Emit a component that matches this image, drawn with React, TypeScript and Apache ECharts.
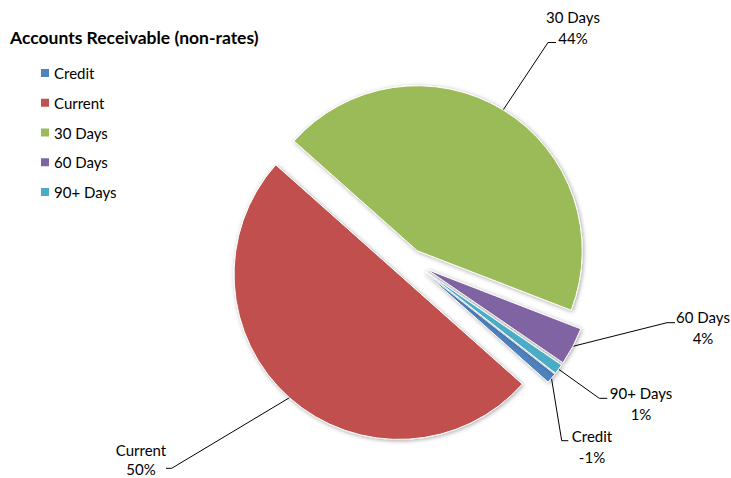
import React, { useEffect, useRef } from 'react';
import * as echarts from 'echarts';

// ---- data ----
const categories = ['Credit', 'Current', '30 Days', '60 Days', '90+ Days'];
const values = [-1.0, 50.0, 44.3, 3.7, 1.0];

// ---- styling / layout ----
const colors = ['#4F81BD', '#C0504D', '#9BBB59', '#8064A2', '#4BACC6'];
const CENTER = [411, 261];
const RADIUS = 165;
const START_ANGLE = 321.95;
const explodeOffsets = [18, 18, 12, 18, 18];
const labelPositions = [[592, 446.5], [141, 459], [573, 27.5], [703, 327.5], [641, 403.5]];
const labelLineHeights = [21, 19, 21, 21, 21];
const lineKinks = [[561.7, 440.7], [171.7, 468.3], [548, 42.5], [667, 322.7], [599.3, 398.3]];
const lineEnds = [[568.3, 440.7], [166, 468.3], [556, 42.5], [675, 322.7], [607.3, 398.3]];
const FONT = 'Lato';

export default function App() {
  const ref = useRef<HTMLDivElement>(null);
  useEffect(() => {
    if (!ref.current) return;
    const chart = echarts.init(ref.current, null, { renderer: 'svg' });
    const absVals = values.map((v) => Math.abs(v));
    const total = absVals.reduce((a, b) => a + b, 0);
    let acc = 0;
    const mids = absVals.map((v) => {
      const a0 = START_ANGLE - (acc / total) * 360;
      acc += v;
      const a1 = START_ANGLE - (acc / total) * 360;
      return (((a0 + a1) / 2) * Math.PI) / 180;
    });
    const centers = mids.map((m, i) => [
      CENTER[0] + explodeOffsets[i] * Math.cos(m),
      CENTER[1] - explodeOffsets[i] * Math.sin(m),
    ]);
    const arcPts = mids.map((m, i) => [
      centers[i][0] + RADIUS * Math.cos(m),
      centers[i][1] - RADIUS * Math.sin(m),
    ]);

    const series = categories.map((name, i) => ({
      type: 'pie',
      name,
      center: centers[i],
      radius: RADIUS,
      startAngle: START_ANGLE,
      clockwise: true,
      silent: true,
      avoidLabelOverlap: false,
      emphasis: { disabled: true },
      data: categories.map((n, j) =>
        j === i
          ? {
              name: n,
              value: absVals[j],
              itemStyle: {
                color: colors[j],
                borderColor: '#ffffff',
                borderWidth: 1,
                shadowBlur: 4,
                shadowColor: 'rgba(0,0,0,0.35)',
                shadowOffsetX: 1,
                shadowOffsetY: 1,
              },
              label: {
                show: true,
                position: 'outside',
                formatter: () => `${n}\n${Math.round((values[j] / total) * 100)}%`,
                fontFamily: FONT,
                fontSize: 15,
                lineHeight: labelLineHeights[j],
                color: '#000',
                width: 90,
                overflow: 'none',
                align: 'center',
              },
              labelLine: { show: true, smooth: false, lineStyle: { color: '#000', width: 1 } },
            }
          : {
              name: n,
              value: absVals[j],
              itemStyle: { color: 'transparent', borderWidth: 0, shadowBlur: 0 },
              label: { show: false },
              labelLine: { show: false },
            }
      ),
      labelLayout: (p: any) => {
        if (p.dataIndex !== i) return {};
        return {
          x: labelPositions[i][0],
          y: labelPositions[i][1],
          align: 'center',
          verticalAlign: 'middle',
          labelLinePoints: [arcPts[i], lineKinks[i], lineEnds[i]],
        };
      },
    }));

    chart.setOption({
      animation: false,
      textStyle: { fontFamily: FONT },
      title: {
        text: 'Accounts Receivable (non-rates)',
        left: 10,
        top: 27,
        padding: 0,
        textStyle: { fontSize: 17.5, fontWeight: 'bold', fontFamily: FONT, color: '#000', lineHeight: 20 },
      },
      legend: {
        orient: 'vertical',
        left: 41,
        top: 65,
        padding: 0,
        itemWidth: 8,
        itemHeight: 8,
        itemGap: 13.75,
        icon: 'rect',
        selectedMode: false,
        textStyle: { fontSize: 15, lineHeight: 16, color: '#000', fontFamily: FONT },
        data: categories.map((n, i) => ({ name: n, itemStyle: { color: colors[i], borderWidth: 0 } })),
      },
      series,
    });
    return () => chart.dispose();
  }, []);
  return (
    <div
      ref={ref}
      style={{ position: 'absolute', left: 0, top: 0, width: 731, height: 478, background: '#fff' }}
    />
  );
}
